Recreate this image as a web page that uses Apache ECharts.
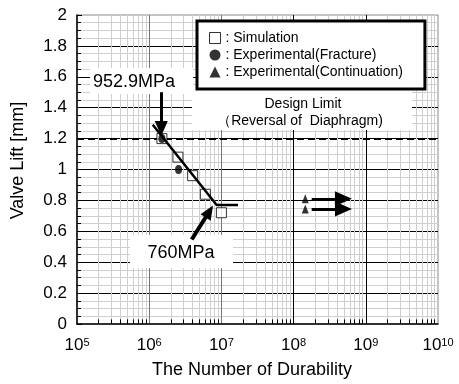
<!DOCTYPE html>
<html>
<head>
<meta charset="utf-8">
<script src="https://cdn.jsdelivr.net/npm/echarts@6/dist/echarts.min.js"></script>
<style>
html,body{margin:0;padding:0;background:#fff;}
#c{width:459px;height:384px;}
</style>
</head>
<body>
<div id="c"></div>
<script>
// ---- data ----
var xExponents = [5, 6, 7, 8, 9, 10];          // x tick labels 10^n
var yTicks = [0, 0.2, 0.4, 0.6, 0.8, 1, 1.2, 1.4, 1.6, 1.8, 2];

var simX = [1.5e6, 2.5e6, 4.0e6, 6.0e6, 1.0e7];
var simY = [1.2, 1.08, 0.96, 0.84, 0.72];

var fracX = [1.5e6, 2.55e6];
var fracY = [1.2, 1.0];

var contX = [1.45e8, 1.45e8];
var contY = [0.81, 0.745];

var fitX = [1.12e6, 8.6e6, 1.7e7];
var fitY = [1.29, 0.77, 0.77];

var designLimit = 1.2;

var arrow952 = [[1.47e6, 1.5], [1.47e6, 1.265]];
var arrow760 = [[3.88e6, 0.547], [6.8e6, 0.728]];
var contArrowFromX = 1.78e8, contArrowToX = 4.9e8;

function zip(xs, ys) { return xs.map(function (x, i) { return [x, ys[i]]; }); }

// minor vertical grid (2..9 within each decade)
var minorLines = [], minorTicks = [];
for (var e = xExponents[0]; e < xExponents[xExponents.length - 1]; e++) {
  for (var k = 2; k <= 9; k++) {
    var v = k * Math.pow(10, e);
    minorLines.push({ xAxis: v });
    minorTicks.push([{ coord: [v, 0] }, { coord: [v, 0.03] }]);
  }
}

var FONT = '"Liberation Sans", Arial, Helvetica, sans-serif';
var chart = echarts.init(document.getElementById('c'), null, { renderer: 'canvas' });

chart.setOption({
  animation: false,
  backgroundColor: '#fff',
  textStyle: { fontFamily: FONT, color: '#000' },
  grid: { left: 77, right: 21, top: 15, bottom: 57, show: true, borderColor: '#888', borderWidth: 1 },
  legend: {
    data: ['Simulation', 'Experimental(Fracture)', 'Experimental(Continuation)'],
    orient: 'vertical',
    left: 197, top: 21,
    padding: [9, 22, 9, 12],
    itemWidth: 11, itemHeight: 11, itemGap: 1,
    backgroundColor: '#fff',
    borderColor: '#000', borderWidth: 3,
    selectedMode: false,
    itemStyle: { borderWidth: 1 },
    formatter: function (n) { return ': ' + n; },
    textStyle: { fontFamily: FONT, fontSize: 14, color: '#000', lineHeight: 16 },
    z: 5
  },
  xAxis: {
    type: 'log', logBase: 10, min: 1e5, max: 1e10,
    axisLine: { lineStyle: { color: '#000', width: 1.5 } },
    axisTick: { show: false },
    minorTick: { show: false },
    splitLine: { show: true, showMinLine: false, showMaxLine: false,
      lineStyle: { color: ['#777', '#777', '#000', '#000'], width: 1 } },
    axisLabel: {
      margin: 13,
      formatter: function (val) { return '10{s|' + Math.round(Math.log10(val)) + '}'; },
      fontSize: 17, color: '#000', fontFamily: FONT,
      rich: { s: { fontSize: 11, fontFamily: FONT, color: '#000', verticalAlign: 'top', lineHeight: 11 } }
    },
    name: 'The Number of Durability',
    nameLocation: 'middle', nameGap: 37,
    nameTextStyle: { fontSize: 18, color: '#000', fontFamily: FONT, padding: [0, 11, 0, 0] }
  },
  yAxis: {
    type: 'value', min: yTicks[0], max: yTicks[yTicks.length - 1], interval: 0.2,
    axisLine: { show: true, lineStyle: { color: '#000', width: 1.5 } },
    axisTick: { show: true, inside: true, length: 5, lineStyle: { color: '#000' } },
    minorTick: { show: true, splitNumber: 4, length: 4, lineStyle: { color: '#000' } },
    splitLine: { show: true, showMinLine: false, showMaxLine: false, lineStyle: { color: '#000', width: 1 } },
    minorSplitLine: { show: true, lineStyle: { color: '#cfcfcf', width: 1 } },
    axisLabel: {
      margin: 10, fontSize: 17, color: '#000', fontFamily: FONT,
      formatter: function (v) { return String(+v.toFixed(1)); }
    },
    name: 'Valve Lift [mm]',
    nameLocation: 'middle', nameGap: 50,
    nameTextStyle: { fontSize: 18, color: '#000', fontFamily: FONT, padding: [0, 0, 0, 18] }
  },
  graphic: {
    elements: [
      { type: 'rect', z: 1, shape: { x: 90, y: 68, width: 103, height: 26 }, style: { fill: '#fff' } },
      { type: 'text', z: 1, style: { text: '952.9MPa', x: 134, y: 82, align: 'center', verticalAlign: 'middle',
          font: '18px ' + FONT, fill: '#000' } },
      { type: 'rect', z: 1, shape: { x: 192, y: 90, width: 220, height: 40 }, style: { fill: '#fff' } },
      { type: 'text', z: 1, style: { text: 'Design Limit', x: 303, y: 104, align: 'center', verticalAlign: 'middle',
          font: '14px ' + FONT, fill: '#000' } },
      { type: 'text', z: 1, style: { text: '（Reversal of  Diaphragm)', x: 300, y: 121, align: 'center', verticalAlign: 'middle',
          font: '14px ' + FONT, fill: '#000' } },
      { type: 'rect', z: 1, shape: { x: 130, y: 235, width: 103, height: 33 }, style: { fill: '#fff' } },
      { type: 'text', z: 1, style: { text: '760MPa', x: 181, y: 253, align: 'center', verticalAlign: 'middle',
          font: '18px ' + FONT, fill: '#000' } }
    ]
  },
  series: [
    {
      name: 'grid-helper', type: 'line', data: [], z: 0, silent: true,
      markLine: {
        z: 0, silent: true, symbol: 'none', animation: false, label: { show: false },
        lineStyle: { color: '#cfcfcf', width: 1, type: 'solid' },
        data: minorLines
      }
    },
    {
      name: 'tick-helper', type: 'line', data: [], z: 3, silent: true,
      markLine: {
        z: 3, silent: true, symbol: 'none', animation: false, label: { show: false },
        lineStyle: { color: '#000', width: 1, type: 'solid' },
        data: minorTicks
      }
    },
    {
      name: 'limit', type: 'line', data: [], z: 3, silent: true,
      markLine: {
        z: 3, silent: true, symbol: 'none', animation: false, label: { show: false },
        lineStyle: { color: '#000', width: 2, type: [7, 4] },
        data: [{ yAxis: designLimit }]
      }
    },
    {
      name: 'Simulation', type: 'scatter', z: 4,
      symbol: 'rect', symbolSize: 10,
      itemStyle: { color: '#fff', borderColor: '#000', borderWidth: 1 },
      data: zip(simX, simY)
    },
    {
      name: 'fit', type: 'line', z: 5, symbol: 'none', silent: true,
      lineStyle: { color: '#000', width: 2.5 },
      data: zip(fitX, fitY)
    },
    {
      name: 'Experimental(Fracture)', type: 'scatter', z: 6,
      symbol: 'circle', symbolSize: [7, 9],
      itemStyle: { color: '#000' },
      data: zip(fracX, fracY)
    },
    {
      name: 'Experimental(Continuation)', type: 'scatter', z: 6,
      symbol: 'triangle', symbolSize: [7, 9],
      itemStyle: { color: '#000' },
      data: zip(contX, contY)
    },
    {
      name: 'arrows', type: 'line', data: [], z: 7, silent: true,
      markLine: {
        z: 7, silent: true, animation: false, label: { show: false },
        symbol: ['none', 'triangle'],
        lineStyle: { color: '#000', width: 3, type: 'solid' },
        itemStyle: { color: '#000' },
        data: [
          [{ coord: arrow952[0], symbolSize: 0 }, { coord: arrow952[1], symbolSize: [13, 15] }],
          [{ coord: arrow760[0], symbolSize: 0, lineStyle: { width: 4 } }, { coord: arrow760[1], symbolSize: [12, 14] }],
          [{ coord: [contArrowFromX, contY[0]], symbolSize: 0 }, { coord: [contArrowToX, contY[0]], symbolSize: [15, 17] }],
          [{ coord: [contArrowFromX, contY[1]], symbolSize: 0 }, { coord: [contArrowToX, contY[1]], symbolSize: [15, 17] }]
        ]
      }
    }
  ]
});
</script>
</body>
</html>
